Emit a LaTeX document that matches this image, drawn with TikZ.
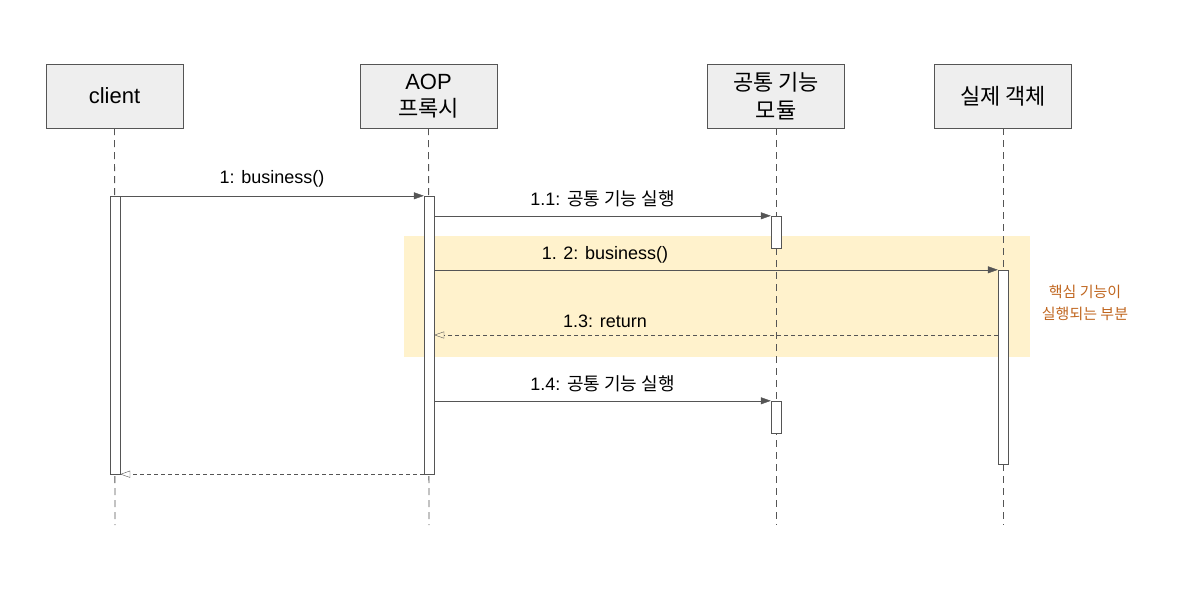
\documentclass[tikz,border=0pt]{standalone}
\usepackage{fontspec}
\setmainfont{Liberation Sans}
\newfontfamily\kr{Noto Sans CJK KR}
\usetikzlibrary{arrows.meta}
\definecolor{boxfill}{HTML}{EEEEEE}
\definecolor{linec}{HTML}{555555}
\definecolor{hl}{HTML}{FFF2CC}
\definecolor{note}{HTML}{C0661F}
\begin{document}
\begin{tikzpicture}[x=1pt,y=-1pt,
  actor/.style={draw=linec,fill=boxfill,minimum width=137pt,minimum height=64pt,align=center,font=\fontsize{22}{27}\selectfont,inner sep=0},
  life/.style={draw=linec,dashed,dash pattern=on 7pt off 5pt,line width=0.9pt},
  act/.style={draw=linec,fill=white,minimum width=10pt,inner sep=0},
  msg/.style={draw=linec,-{Triangle[length=10pt,width=7pt]}},
  ret/.style={draw=linec,dashed,dash pattern=on 4pt off 3pt,-{Triangle[open,length=10pt,width=7pt]}},
  lbl/.style={font=\fontsize{18}{22}\selectfont,inner sep=0}]
\useasboundingbox (0,0) rectangle (1188,600);
\fill[hl] (404,236) rectangle (1030,357);
\node[actor] (c) at (114.5,96) {client};
\node[actor] (p) at (428.5,96) {AOP\\{\kr 프록시}};
\node[actor,font=\kr\fontsize{22}{28}\selectfont] (m) at (776,96) {공통 기능\\모듈};
\node[actor,font=\kr\fontsize{22}{27}\selectfont] (r) at (1003,96) {실제 객체};
\coordinate (ce) at (115,525);
\coordinate (pe) at (429,525);
\coordinate (me) at (776,525);
\coordinate (re) at (1003,525);
\draw[life] (c.south) -- (ce);
\draw[life] (p.south) -- (pe);
\draw[life] (m.south) -- (me);
\draw[life] (r.south) -- (re);
\node[act,minimum height=278pt] (ca) at (115,335) {};
\node[act,minimum height=278pt] (pa) at (429,335) {};
\node[act,minimum height=32pt] (ma1) at (776,232) {};
\node[act,minimum height=32pt] (ma2) at (776,417) {};
\node[act,minimum height=194pt] (ra) at (1003,367) {};
\draw[msg] (ca.north east) -- (pa.north west) node[lbl,midway,above=8pt] {1: business()};
\draw[msg] (pa.east |- ma1.north) -- (ma1.north west) node[lbl,midway,above=9pt] {1.1: {\kr 공통 기능 실행}};
\draw[msg] (pa.east |- ra.north) -- (ra.north west);
\node[lbl] (l2) at (605,255) {1. 2: business()};
\coordinate (r3) at (998,335);
\draw[ret] (r3) -- (pa.east |- r3);
\node[lbl] (l3) at (605,321) {1.3: return};
\draw[msg] (pa.east |- ma2.north) -- (ma2.north west) node[lbl,midway,above=9pt] {1.4: {\kr 공통 기능 실행}};
\draw[ret] (pa.south west) -- (ca.south east);
\node[font=\kr\fontsize{15}{22}\selectfont,text=note,align=center] (n) at (1085,303) {핵심 기능이\\실행되는 부분};
\end{tikzpicture}
\end{document}
